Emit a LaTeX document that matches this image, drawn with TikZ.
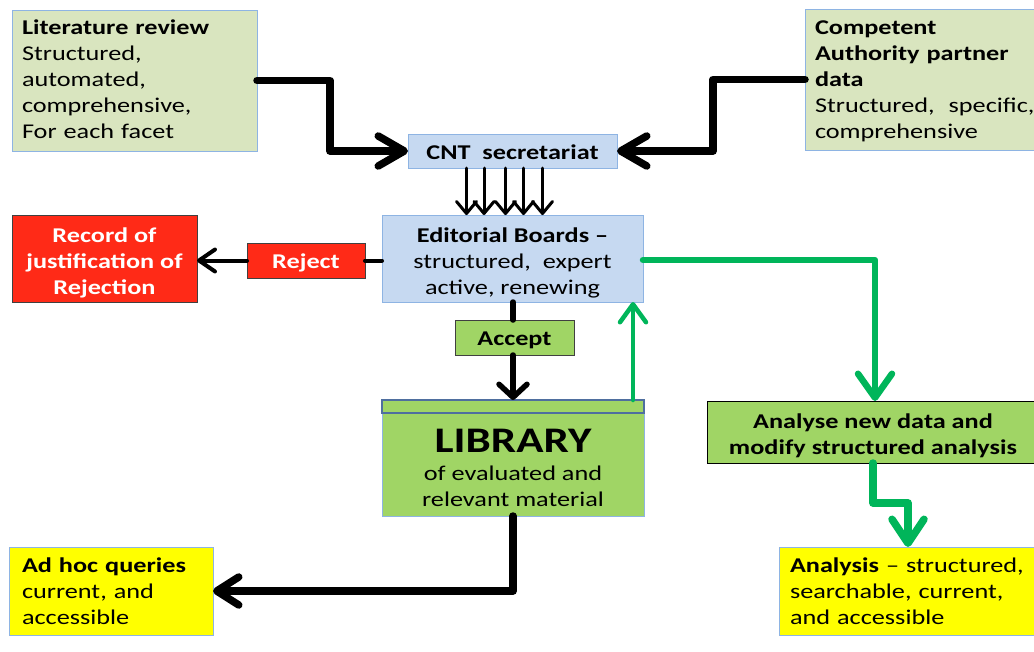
\documentclass[tikz,border=0pt]{standalone}
\usepackage{fontspec}
\setmainfont{Carlito}[FakeStretch=1.25]
\usetikzlibrary{arrows.meta,calc}
\definecolor{litgreen}{HTML}{D9E5BF}
\definecolor{bordblue}{HTML}{8EB4E3}
\definecolor{lblue}{HTML}{C6D9F1}
\definecolor{rred}{HTML}{FF2A17}
\definecolor{lgreen}{HTML}{A0D565}
\definecolor{hdrblue}{HTML}{4F6F9F}
\definecolor{gline}{HTML}{00B55A}
\definecolor{yel}{HTML}{FFFF00}
\begin{document}
\begin{tikzpicture}[x=1pt,y=-1pt,
  every node/.style={font=\fontsize{21}{26}\selectfont, inner sep=0pt, outer sep=0pt},
  box/.style={draw=bordblue, line width=1pt, rectangle},
  darkbox/.style={draw=black!75, line width=1pt, rectangle},
  blk/.style={draw=black, line join=round, line cap=round},
  bigline/.style={blk, line width=7.5pt},
  bigtip/.style={-{Straight Barb[length=26pt,width=30pt,round]}},
  thintip/.style={blk, line width=3pt, -{Straight Barb[length=12pt,width=20pt,round]}},
  gr/.style={draw=gline, line join=round, line cap=round}
]
\clip (0,0) rectangle (1034,651);

% boxes
\node[box, fill=litgreen, minimum width=245, minimum height=141, text width=225, align=left,
      text height=16.5pt, text depth=109.5pt] (lit) at (134.5,80.5)
  {\textbf{Literature review}\\Structured,\\automated,\\comprehensive,\\For each facet};
\node[box, fill=litgreen, minimum width=250, minimum height=141, text width=230, align=left,
      text height=17.5pt, text depth=108.5pt] (comp) at (930,79.5)
  {\textbf{Competent}\\\textbf{Authority partner}\\\textbf{data}\\Structured,~ specific,\\comprehensive};
\node[box, fill=lblue, minimum width=209, minimum height=34, align=center,
      text height=18pt, text depth=2pt] (cnt) at (512.5,151)
  {\textbf{CNT~ secretariat}};
\node[box, fill=lblue, minimum width=261, minimum height=87, align=center,
      text height=71.5pt, text depth=0.5pt] (ed) at (512.5,258.5)
  {\textbf{Editorial Boards –}\\structured,~ expert\\active, renewing};
\node[darkbox, fill=rred, text=white, minimum width=185, minimum height=87, align=center,
      text height=71.5pt, text depth=0.5pt] (rec) at (104.5,258.5)
  {\textbf{Record of}\\\textbf{justification of}\\\textbf{Rejection}};
\node[darkbox, fill=rred, text=white, minimum width=118, minimum height=35, align=center,
      text height=18pt, text depth=2pt] (rej) at (306,260.5)
  {\textbf{Reject}};
\node[darkbox, fill=lgreen, minimum width=119, minimum height=35, align=center,
      text height=17.5pt, text depth=2.5pt] (acc) at (514.5,337.5)
  {\textbf{Accept}};
\node[box, fill=lgreen, minimum width=262, minimum height=103] (lib) at (513,464.5) {};
\node[align=center, text height=75pt, text depth=0pt] (libtext) at (513,468.5)
  {{\bfseries\fontsize{36}{40}\selectfont LIBRARY}\\[2pt]of evaluated and\\relevant material};
\node[draw=hdrblue, line width=1.5pt, fill=lgreen, minimum width=262, minimum height=13] (libhead) at (513,406.5) {};
\node[darkbox, draw=black, fill=lgreen, minimum width=332, minimum height=62, align=center,
      text height=45pt, text depth=1pt] (ana) at (873,432)
  {\textbf{Analyse new data and}\\\textbf{modify structured analysis}};
\node[box, fill=yel, minimum width=204, minimum height=88, text width=178, align=left,
      text height=17pt, text depth=55pt] (adhoc) at (111,591)
  {\textbf{Ad hoc queries}\\current, and\\accessible};
\node[box, fill=yel, minimum width=271, minimum height=88, text width=249, align=left,
      text height=17pt, text depth=55pt] (anl) at (914.5,591)
  {\textbf{Analysis} – structured,\\searchable, current,\\and accessible};

% black connectors
\draw[bigline, bigtip] (lit.east) -- ++(73,0) |- (cnt.west);
\draw[bigline, bigtip] (comp.west) -- ++(-92,0) |- (cnt.east);
\foreach \dx in {-46,-28.5,-7,11,30}
  \draw[thintip] ([xshift=\dx]cnt.south) -- ([xshift=\dx]cnt.south |- ed.north);
\draw[blk, line width=4pt] (rej.east) -- (rej.east -| ed.west);
\draw[blk, line width=4pt, -{Straight Barb[length=16pt,width=22pt,round]}] (rej.west) -- (rej.west -| rec.east);
\draw[blk, line width=5.5pt] (acc.north -| 513,0) -- (ed.south -| 513,0);
\draw[blk, line width=5.5pt, -{Straight Barb[length=13pt,width=28pt,round]}] (acc.south -| 513,0) -- (libhead.north -| 513,0);
\draw[bigline, -{Straight Barb[length=22pt,width=28pt,round]}] (lib.south) |- (adhoc.east);

% green connectors
\draw[gr, line width=4.5pt, -{Straight Barb[length=18pt,width=26pt,round]}] (libhead.north -| 633,0) -- (ed.south -| 633,0);
\draw[gr, line width=6.5pt, -{Straight Barb[length=24pt,width=34pt,round]}] (ed.east |- 0,260) -| (ana.north -| 875,0);
\draw[gr, line width=7.5pt, -{Straight Barb[length=24pt,width=32pt,round]}] (ana.south) -- ++(0,40) -| (anl.north -| 908,0);
\end{tikzpicture}
\end{document}
